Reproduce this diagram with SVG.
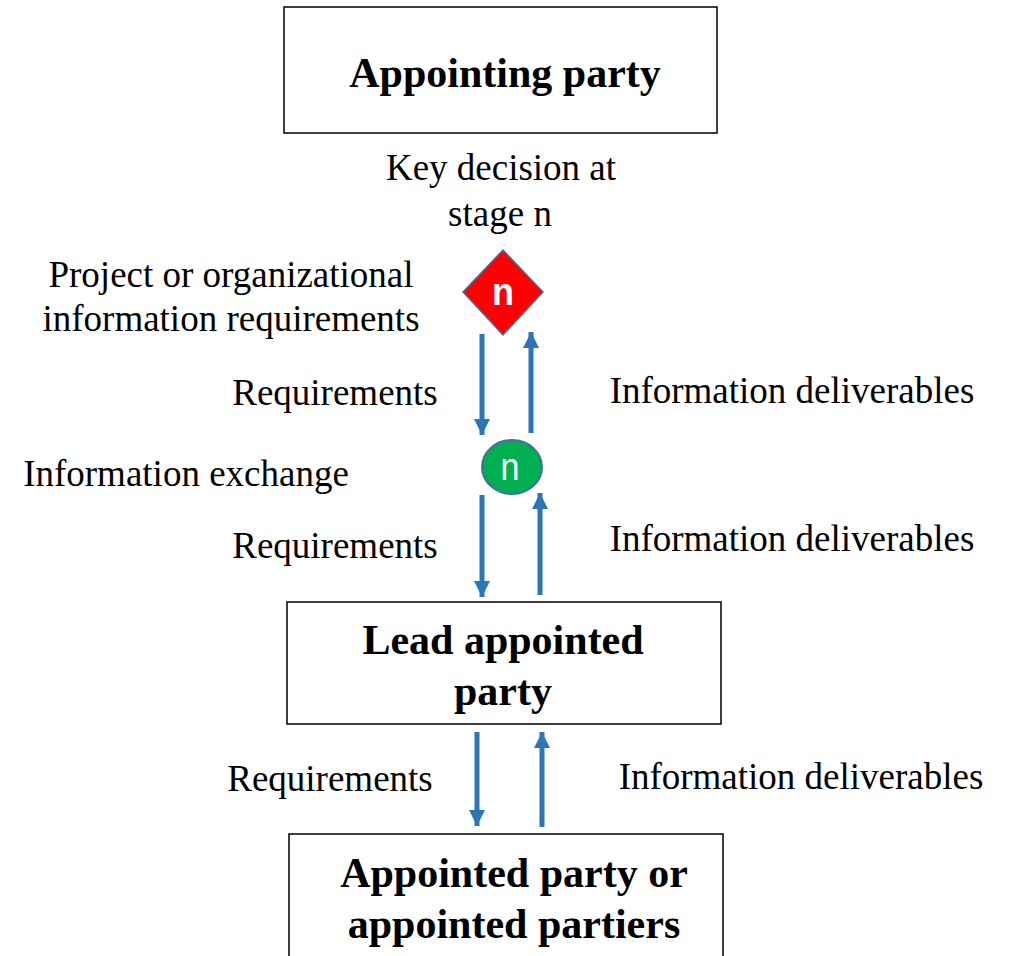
<svg xmlns="http://www.w3.org/2000/svg" width="1012" height="956" viewBox="0 0 1012 956">
  <defs>
    <style>
      .box { fill: #ffffff; stroke: #000000; stroke-width: 1.5; }
      .title { font-family: "Liberation Serif", "Times New Roman", serif; font-weight: bold; font-size: 42px; fill: #000000; text-anchor: middle; }
      .label { font-family: "Liberation Serif", "Times New Roman", serif; font-size: 37px; fill: #000000; text-anchor: middle; }
      .flow { stroke: #2E75B6; stroke-width: 5; fill: none; }
      .badge { font-family: "Liberation Sans", Arial, sans-serif; font-size: 38px; fill: #ffffff; text-anchor: middle; }
    </style>
    <marker id="head" viewBox="0 0 16 16" refX="16" refY="8" markerWidth="16" markerHeight="16" markerUnits="userSpaceOnUse" orient="auto">
      <path d="M0,0 L16,8 L0,16 Z" fill="#2E75B6"/>
    </marker>
  </defs>
  <rect width="1012" height="956" fill="#ffffff"/>

  <!-- Parties -->
  <g id="appointing-party">
    <rect class="box" x="284" y="7" width="433" height="126"/>
    <text class="title" x="505" y="87">Appointing party</text>
  </g>
  <g id="lead-appointed-party">
    <rect class="box" x="287" y="602" width="434" height="122"/>
    <text class="title" x="503" y="654">Lead appointed</text>
    <text class="title" x="503" y="705">party</text>
  </g>
  <g id="appointed-parties">
    <rect class="box" x="289" y="834" width="434" height="130"/>
    <text class="title" x="514" y="887">Appointed party or</text>
    <text class="title" x="514" y="938">appointed partiers</text>
  </g>

  <!-- Key decision point -->
  <g id="key-decision">
    <polygon points="503,250 543,292 503,335 463,292" fill="#FF0000" stroke="#41719C" stroke-width="1.5"/>
    <text class="badge" x="503" y="305" font-weight="bold" textLength="22" lengthAdjust="spacingAndGlyphs">n</text>
  </g>
  <g id="information-exchange">
    <ellipse cx="512" cy="467" rx="30" ry="27" fill="#00B050" stroke="#41719C" stroke-width="2"/>
    <text class="badge" x="510" y="480" textLength="19" lengthAdjust="spacingAndGlyphs">n</text>
  </g>

  <!-- Connectors -->
  <g id="connectors">
    <line class="flow" x1="482" y1="334" x2="482" y2="435" marker-end="url(#head)"/>
    <line class="flow" x1="531" y1="433" x2="531" y2="332" marker-end="url(#head)"/>
    <line class="flow" x1="482" y1="495" x2="482" y2="597" marker-end="url(#head)"/>
    <line class="flow" x1="540" y1="595" x2="540" y2="493" marker-end="url(#head)"/>
    <line class="flow" x1="477" y1="732" x2="477" y2="826" marker-end="url(#head)"/>
    <line class="flow" x1="542" y1="827" x2="542" y2="732" marker-end="url(#head)"/>
  </g>

  <!-- Labels -->
  <g id="labels">
    <text class="label" x="501" y="180">Key decision at</text>
    <text class="label" x="500" y="226">stage n</text>
    <text class="label" x="231" y="287">Project or organizational</text>
    <text class="label" x="231" y="331">information requirements</text>
    <text class="label" x="335" y="405">Requirements</text>
    <text class="label" x="792" y="403">Information deliverables</text>
    <text class="label" x="186" y="486">Information exchange</text>
    <text class="label" x="335" y="558">Requirements</text>
    <text class="label" x="792" y="551">Information deliverables</text>
    <text class="label" x="330" y="791">Requirements</text>
    <text class="label" x="801" y="789">Information deliverables</text>
  </g>
</svg>
